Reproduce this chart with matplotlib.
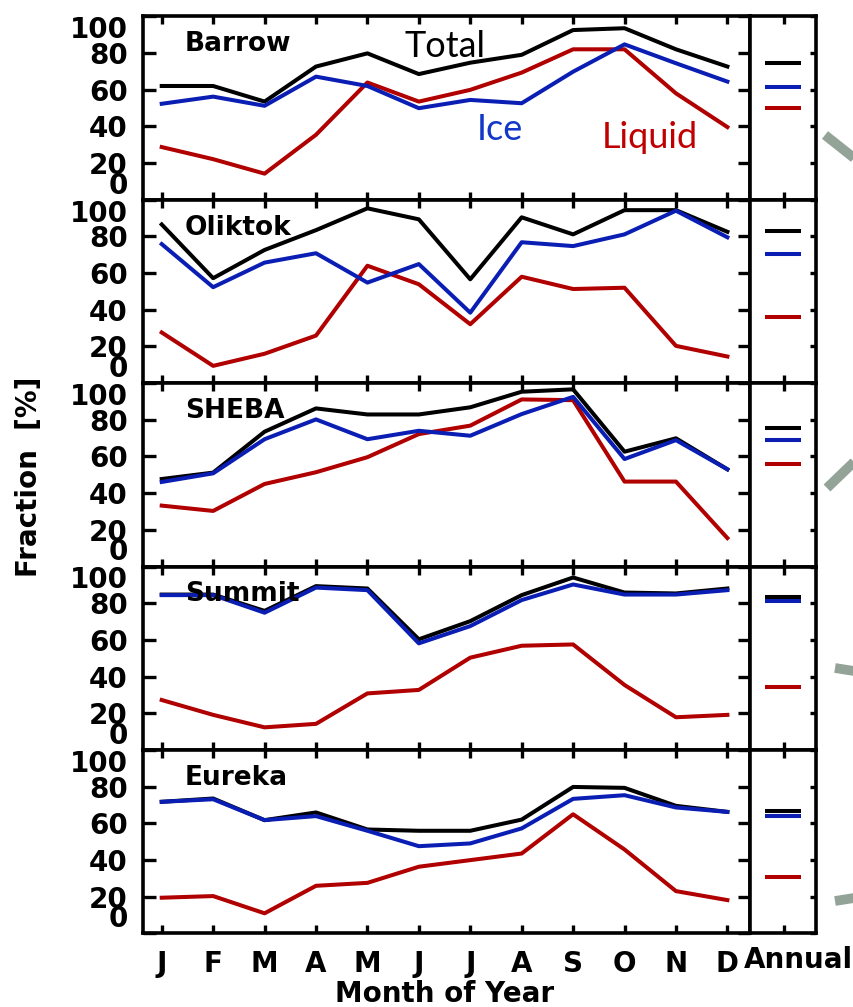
import matplotlib
matplotlib.use("Agg")
import matplotlib.pyplot as plt
from matplotlib.lines import Line2D
import numpy as np

months = ["J", "F", "M", "A", "M", "J", "J", "A", "S", "O", "N", "D"]
stations = ["Barrow", "Oliktok", "SHEBA", "Summit", "Eureka"]

barrow_total = [62, 62, 53.5, 72.6, 79.8, 68.5, 74.7, 79, 92.5, 93.5, 82, 72.6]
barrow_ice = [52.3, 56.2, 51.2, 67.1, 62, 49.9, 54.4, 52.6, 69.8, 84.7, 74.4, 64.4]
barrow_liquid = [28.7, 22.1, 14.2, 35.4, 63.9, 53.5, 59.9, 69.3, 82, 82, 58, 39.6]

oliktok_total = [86.5, 57.2, 72.6, 83.4, 95.3, 89.3, 56.6, 90.4, 81.1, 94.3, 94.3, 82.5]
oliktok_ice = [75.8, 52.3, 65.7, 70.8, 54.8, 64.9, 38.4, 76.8, 74.7, 81.1, 94, 79.5]
oliktok_liquid = [27.6, 9.4, 16, 25.9, 64, 53.9, 32.1, 58, 51.3, 52, 20.3, 14.5]

sheba_total = [47.7, 51.2, 73.5, 86.2, 82.9, 82.9, 86.8, 95.3, 96.6, 62.6, 69.9, 53]
sheba_ice = [46.1, 50.8, 69.4, 80.2, 69.4, 74, 71.3, 83.1, 92.5, 58.6, 68.9, 53]
sheba_liquid = [33.2, 30.3, 45, 51.4, 59.6, 72.2, 76.8, 91.1, 90.7, 46.3, 46.3, 15.5]

summit_total = [84.7, 84.7, 75.8, 89.3, 88, 60.3, 70.2, 84.4, 94, 85.8, 85.3, 88]
summit_ice = [84.4, 84.4, 74.8, 88.5, 87.1, 58.1, 67.5, 81.7, 90.2, 84.7, 84.7, 87.1]
summit_liquid = [27.2, 19.1, 12.3, 14.2, 30.8, 32.7, 50.3, 56.8, 57.5, 35.4, 17.8, 19.1]

eureka_total = [71.7, 73.5, 61.7, 65.9, 56.6, 55.9, 55.9, 62, 79.8, 79.3, 69.5, 66.2]
eureka_ice = [71.7, 73.1, 61.7, 63.9, 55.9, 47.5, 49, 57.2, 73.3, 75.3, 68.6, 66.2]
eureka_liquid = [19.4, 20.3, 10.9, 25.9, 27.5, 36.3, 39.9, 43.5, 64.9, 45.7, 23, 18.1]

annual_total = [74.4, 82.9, 75.3, 83.1, 66.7]
annual_ice = [61.7, 70.4, 68.9, 81.3, 64.2]
annual_liquid = [50.2, 36.3, 55.7, 34.1, 30.8]

yticks = [0, 20, 40, 60, 80, 100]

# decorative gray slide arcs at right edge (pixel coordinates of the original slide)
gray_segments = [((825, 135), (854, 158)), ((827, 488), (854, 462)),
                 ((835, 668), (854, 671)), ((835, 901), (854, 898))]

totals = [barrow_total, oliktok_total, sheba_total, summit_total, eureka_total]
ices = [barrow_ice, oliktok_ice, sheba_ice, summit_ice, eureka_ice]
liquids = [barrow_liquid, oliktok_liquid, sheba_liquid, summit_liquid, eureka_liquid]

BLACK = "#000000"
BLUE = "#0a1eb4"
RED = "#b00000"

W, H = 854, 1007
fig = plt.figure(figsize=(W / 100, H / 100), dpi=100)

def fx(px):
    return px / W

def fy(py):
    return 1 - py / H

main_left, main_right, ann_right = 143, 750, 816
top0, ph = 16.3, 183.4
x = np.arange(1, 13)
bold = dict(family="DejaVu Sans", weight="bold")

for i, name in enumerate(stations):
    top = top0 + i * ph
    ax = fig.add_axes([fx(main_left), fy(top + ph), fx(main_right - main_left), ph / H])
    axa = fig.add_axes([fx(main_right), fy(top + ph), fx(ann_right - main_right), ph / H])
    for a in (ax, axa):
        for s in a.spines.values():
            s.set_linewidth(2.6)
        a.set_ylim(0, 100)
        a.set_yticks(yticks)
    ax.set_xlim(0.636, 12.44)
    ax.set_xticks(x)
    ax.tick_params(axis="x", direction="in", top=True, bottom=True, length=6, width=2.4)
    ax.tick_params(axis="y", direction="in", left=True, right=True, length=9, width=2.4, pad=11)
    ax.set_yticklabels([str(t) for t in yticks], fontsize=20, **bold)
    for lab, t in zip(ax.get_yticklabels(), yticks):
        if t == 100:
            lab.set_va("top")
        elif t == 0:
            lab.set_va("bottom")
    if i == len(stations) - 1:
        ax.set_xticklabels(months, fontsize=20, **bold)
        ax.tick_params(axis="x", pad=12)
    else:
        ax.set_xticklabels([])

    ax.plot(x, totals[i], color=BLACK, lw=2.9, zorder=3)
    ax.plot(x, liquids[i], color=RED, lw=2.9, zorder=2)
    ax.plot(x, ices[i], color=BLUE, lw=2.9, zorder=4)
    ax.text(0.069, 0.81, name, transform=ax.transAxes, fontsize=19, va="baseline", ha="left", zorder=5, **bold)

    axa.set_xlim(0, 1)
    axa.set_xticks([0.52])
    axa.set_xticklabels([])
    axa.set_yticklabels([])
    axa.tick_params(axis="x", direction="in", top=True, bottom=True, length=6, width=2.4)
    axa.tick_params(axis="y", direction="in", left=False, right=True, length=4, width=2.4)
    for vals, col in ((annual_total, BLACK), (annual_ice, BLUE), (annual_liquid, RED)):
        axa.plot([0.23, 0.78], [vals[i], vals[i]], color=col, lw=2.9, solid_capstyle="butt")

    if i == 0:
        ax.text(5.73, 77.8, "Total", color="black", fontsize=26, family="Lato", va="baseline", ha="left")
        ax.text(7.13, 32.7, "Ice", color="#1238c8", fontsize=26, family="Lato", va="baseline", ha="left")
        ax.text(9.56, 28.1, "Liquid", color="#c00000", fontsize=26, family="Lato", va="baseline", ha="left")

fig.text(fx(798), fy(960), "Annual", fontsize=20, ha="center", va="center", **bold)
fig.text(fx(445), fy(994), "Month of Year", fontsize=20, ha="center", va="center", **bold)
fig.text(fx(29), fy(477), "Fraction  [%]", fontsize=20, rotation=90, ha="center", va="center", **bold)

for (x0, y0), (x1, y1) in gray_segments:
    fig.add_artist(Line2D([fx(x0), fx(x1)], [fy(y0), fy(y1)], transform=fig.transFigure,
                          color="#93a397", lw=7, solid_capstyle="butt"))

fig.savefig("out.png", dpi=100)
